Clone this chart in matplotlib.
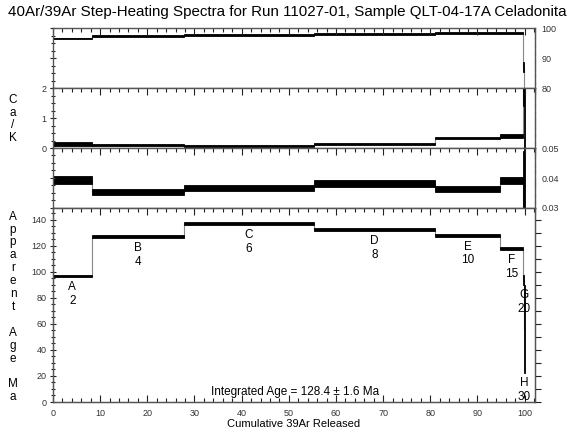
import numpy as np
import matplotlib.pyplot as plt
from matplotlib.ticker import MultipleLocator, NullFormatter

plt.rcParams['font.family'] = ['Liberation Sans', 'DejaVu Sans']

# step-heating data
steps = ['A', 'B', 'C', 'D', 'E', 'F', 'G', 'H']
power = [2, 4, 6, 8, 10, 15, 20, 30]
cum39 = [0, 8.2, 27.8, 55.3, 81.1, 94.7, 99.7, 99.85, 100]
rad40 = [96.6, 97.4, 97.8, 98.1, 98.3, 98.3, 87.0, 40.0]
rad40_err = [0.1, 0.3, 0.3, 0.3, 0.3, 0.3, 1.7, 10.0]
cak = [0.13, 0.10, 0.07, 0.13, 0.34, 0.39, 2.6, 5.0]
cak_err = [0.055, 0.02, 0.02, 0.03, 0.04, 0.07, 1.2, 6.0]
clk = [0.0393, 0.0352, 0.0368, 0.0382, 0.0364, 0.0391, 0.028, 0.0]
clk_err = [0.0014, 0.001, 0.001, 0.0013, 0.001, 0.0011, 0.021, 0.06]
age = [96.8, 127.1, 136.9, 132.3, 127.9, 117.6, 93.8, 56.0]
age_err = [0.8, 1.0, 1.0, 1.0, 1.0, 1.2, 3.8, 34.0]

title = "40Ar/39Ar Step-Heating Spectra for Run 11027-01, Sample QLT-04-17A Celadonita"
integrated = "Integrated Age = 128.4 \u00b1 1.6 Ma"

tick_col = '#333333'
spine_col = '#555555'


def spectrum(ax, vals, errs):
    edges = np.array(cum39)
    v = np.array(vals)
    e = np.array(errs)
    ax.stairs(v, edges, color='#888888', lw=0.8, baseline=None)
    ax.bar(edges[:-1], 2 * e, width=np.diff(edges), bottom=v - e, align='edge',
           color='black', edgecolor='black', lw=0.6)


def frame(ax, ylim, minor, major, left_labels, right_labels, bottom=False):
    ax.set_xlim(0, 102.2)
    ax.set_ylim(*ylim)
    for s in ax.spines.values():
        s.set_color(spine_col)
        s.set_linewidth(1.0)
    ax.xaxis.set_major_locator(MultipleLocator(10))
    ax.xaxis.set_minor_locator(MultipleLocator(2))
    ax.yaxis.set_major_locator(MultipleLocator(major))
    ax.yaxis.set_minor_locator(MultipleLocator(minor))
    ax.tick_params(axis='x', which='both', direction='in', top=True, bottom=bottom,
                   labelbottom=bottom, labelsize=6.5, labelcolor=tick_col, color='#222222', pad=5)
    ax.tick_params(axis='x', which='major', length=5, width=0.8)
    ax.tick_params(axis='x', which='minor', length=3, width=0.8)
    ax.tick_params(axis='y', which='both', left=True, right=True, direction='inout',
                   labelleft=left_labels, labelright=right_labels,
                   labelsize=6.5, labelcolor=tick_col, color='#222222', pad=2)
    ax.tick_params(axis='y', which='major', length=5, width=0.8)
    ax.tick_params(axis='y', which='minor', length=3, width=0.8)


fig = plt.figure(figsize=(5.74, 4.32), dpi=100)
L, W = 53 / 574, 482 / 574
H = 432
ax1 = fig.add_axes([L, 1 - 88 / H, W, 60 / H])
ax2 = fig.add_axes([L, 1 - 148 / H, W, 60 / H])
ax3 = fig.add_axes([L, 1 - 208 / H, W, 60 / H])
ax4 = fig.add_axes([L, 1 - 402 / H, W, 194 / H])

spectrum(ax1, rad40, rad40_err)
frame(ax1, (80, 100), 2.5, 10, False, True)

spectrum(ax2, cak, cak_err)
frame(ax2, (0, 2), 0.25, 1, True, False)

spectrum(ax3, clk, clk_err)
frame(ax3, (0.03, 0.05), 0.0025, 0.01, False, True)
ax3.yaxis.set_major_formatter(plt.FuncFormatter(lambda v, p: f"{v:.2f}"))

spectrum(ax4, age, age_err)
frame(ax4, (0, 149), 5, 20, True, False, bottom=True)
ax4.tick_params(axis='y', which='both', right=False)
ax4r = ax4.twinx()
ax4r.set_ylim(0, 149)
ax4r.yaxis.set_major_locator(MultipleLocator(10))
ax4r.yaxis.set_major_formatter(NullFormatter())
ax4r.tick_params(axis='y', direction='out', length=4, width=0.8, color='#222222')
for s in ax4r.spines.values():
    s.set_color(spine_col)

# right ticks stick outwards
for ax in (ax1, ax2, ax3):
    for t in ax.yaxis.get_major_ticks() + ax.yaxis.get_minor_ticks():
        t.tick2line.set_marker(3)

# step labels
for i, lab in enumerate(steps):
    xc = (cum39[i] + cum39[i + 1]) / 2
    ax4.text(xc, age[i] - age_err[i] - 3, f"{lab}\n{power[i]}", ha='center', va='top',
             fontsize=8.5, linespacing=1.2)

ax4.text(51.3, 8, integrated, ha='center', va='center', fontsize=8.5)
ax4.set_xlabel("Cumulative 39Ar Released", fontsize=8, labelpad=1)

fig.text(0.5, 1 - 12 / H, title, ha='center', va='center', fontsize=10.9)
fig.text(13 / 574, 1 - 119 / H, "C\na\n/\nK", ha='center', va='center', fontsize=8.5, linespacing=1.05)
fig.text(13 / 574, 1 - 307 / H, "A\np\np\na\nr\ne\nn\nt\n\nA\ng\ne\n\nM\na",
         ha='center', va='center', fontsize=8.5, linespacing=1.1)

fig.savefig("out.png", dpi=100)
